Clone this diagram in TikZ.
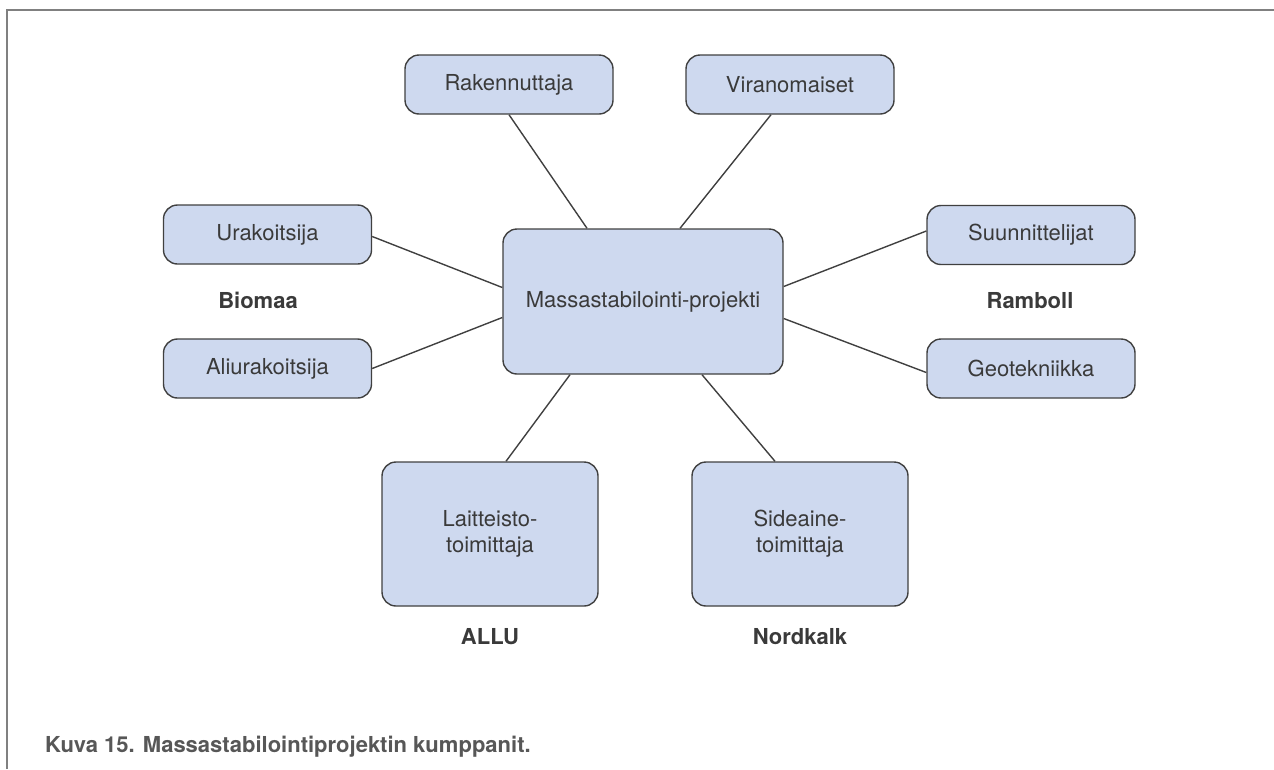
\documentclass[tikz,border=0pt]{standalone}
\usepackage{fontspec}
\setmainfont{TeX Gyre Heros}
\usepackage{tikz}
\usetikzlibrary{positioning}
\definecolor{boxfill}{RGB}{206,217,239}
\definecolor{boxline}{RGB}{64,64,64}
\definecolor{txt}{RGB}{58,58,58}
\definecolor{framegray}{RGB}{128,128,128}
\tikzset{partbox/.style={draw=boxline,fill=boxfill,line width=1.4pt,rounded corners=14pt,
    minimum width=208pt,minimum height=59pt,inner sep=0pt,text=txt,
    font=\fontsize{22}{26}\selectfont,align=center}}
\tikzset{bigbox/.style={partbox,minimum width=216pt,minimum height=144pt}}
\tikzset{firm/.style={inner sep=0pt,text=txt,font=\fontsize{22}{26}\selectfont\bfseries}}
\tikzset{link/.style={line width=1.4pt,draw=boxline}}

\begin{document}
\begin{tikzpicture}[x=1pt,y=-1pt]
            \useasboundingbox (0,0) rectangle (1274,769);
            \draw[framegray,line width=1.8pt] (7,769) -- (7,10) -- (1274,10);
            % centre
            \node[partbox,minimum width=280pt,minimum height=145pt] (mass) at (643,301.5) {Massastabilointi-projekti};
            % partners
            \node[partbox] (rak) at (509,84.5) {Rakennuttaja};
            \node[partbox] (vir) at (790,84.5) {Viranomaiset};
            \node[partbox] (ura) at (267.5,234.5) {Urakoitsija};
            \node[partbox] (ali) at (267.5,368.5) {Aliurakoitsija};
            \node[partbox] (suu) at (1031,235) {Suunnittelijat};
            \node[partbox] (geo) at (1031,368.5) {Geotekniikka};
            \node[bigbox] (lai) at (490,534) {Laitteisto-\\toimittaja};
            \node[bigbox] (sid) at (800,534) {Sideaine-\\toimittaja};
            % companies
            \node[firm,anchor=base] (biomaa) at (258,308) {Biomaa};
            \node[firm,anchor=base] (ramboll) at (1030,308) {Ramboll};
            \node[firm,below=22pt of lai] (allu) {ALLU};
            \node[firm,below=22pt of sid] (nordkalk) {Nordkalk};
            % links
            \draw[link] (rak.south) -- ([xshift=-56pt]mass.north);
            \draw[link] ([xshift=-19pt]vir.south) -- ([xshift=37pt]mass.north);
            \draw[link] ([yshift=-2pt]ura.east) -- ([yshift=14pt]mass.west);
            \draw[link] (ali.east) -- ([yshift=-16pt]mass.west);
            \draw[link] ([yshift=4pt]suu.west) -- ([yshift=15pt]mass.east);
            \draw[link] ([yshift=-4pt]geo.west) -- ([yshift=-17pt]mass.east);
            \draw[link] ([xshift=16pt]lai.north) -- ([xshift=-73pt]mass.south);
            \draw[link] ([xshift=-25pt]sid.north) -- ([xshift=59pt]mass.south);
            % caption
            \node[firm,text=txt!85,anchor=base west] (caption) at (45,752) {Kuva 15. Massastabilointiprojektin kumppanit.};
        \end{tikzpicture}
\end{document}
